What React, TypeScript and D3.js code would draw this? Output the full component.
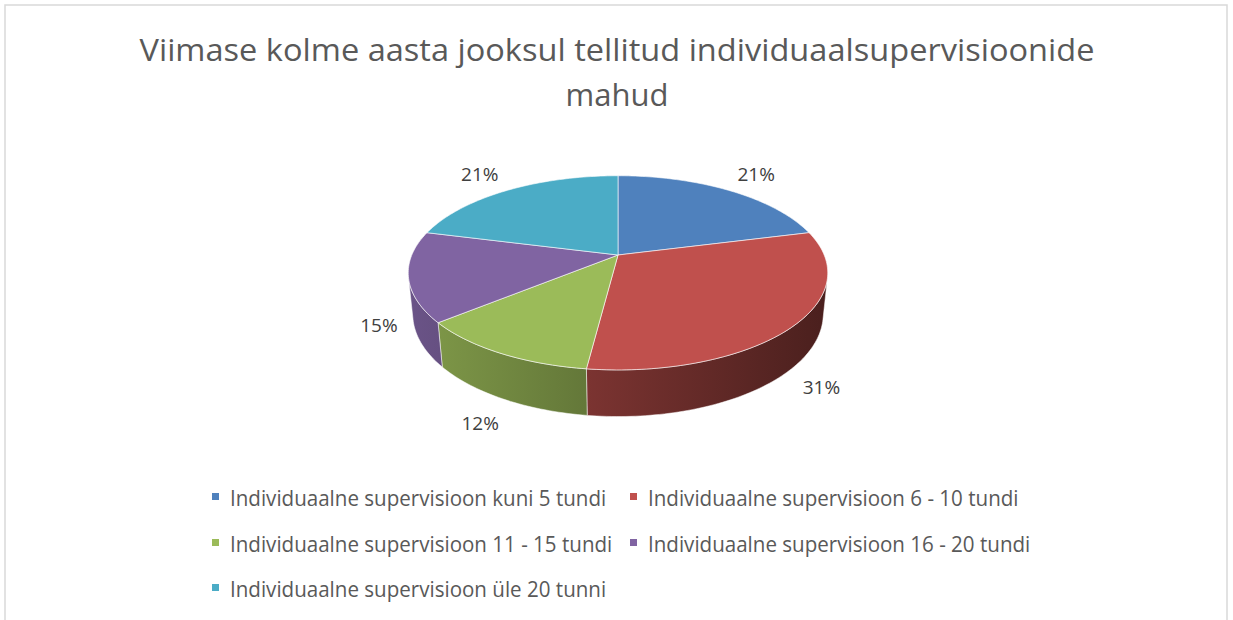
import React from "react";
import * as d3 from "d3";

const titleLines = ["Viimase kolme aasta jooksul tellitud individuaalsupervisioonide", "mahud"];
const categories = [
  "Individuaalne supervisioon kuni 5 tundi",
  "Individuaalne supervisioon 6 - 10 tundi",
  "Individuaalne supervisioon 11 - 15 tundi",
  "Individuaalne supervisioon 16 - 20 tundi",
  "Individuaalne supervisioon üle 20 tunni",
];
const values = [21, 31, 12, 15, 21];
const colors = ["#4f81bd", "#c0504d", "#9bbb59", "#8064a2", "#4bacc6"];

const W = 1233;
const H = 620;

// 3D projection parameters
const CX = 618;
const CY = 255;
const SIN_PHI = 0.455;
const COS_PHI = Math.sqrt(1 - SIN_PHI * SIN_PHI);
const DIST = 4.85;
const FOCAL = 1000;
const DEPTH = 0.226;

function project(a: number, r: number, z: number): [number, number] {
  const px = r * Math.sin(a);
  const py = -r * Math.cos(a);
  const depth = DIST - py * COS_PHI - z * SIN_PHI;
  const up = -py * SIN_PHI + z * COS_PHI;
  return [CX + (px * FOCAL) / depth, CY - (up * FOCAL) / depth];
}

function arcPoints(a0: number, a1: number, z: number): [number, number][] {
  const n = Math.max(2, Math.ceil(Math.abs(a1 - a0) / 0.02));
  const pts: [number, number][] = [];
  for (let i = 0; i <= n; i++) {
    pts.push(project(a0 + ((a1 - a0) * i) / n, 1, z));
  }
  return pts;
}

const line = d3.line<[number, number]>();

export default function App() {
  const total = d3.sum(values);
  const pie = d3.pie<number>().sort(null).startAngle(0).endAngle(2 * Math.PI);
  const arcs = pie(values);
  const fmt = d3.format(".0%");

  // visible range of outer wall
  const vis0 = Math.acos(-1 / (DIST * COS_PHI));
  const vis1 = 2 * Math.PI - vis0;
  const leftX = project(vis1, 1, 0)[0] - 5;
  const rightX = project(vis0, 1, 0)[0] + 5;

  const walls = arcs
    .map((d, i) => {
      const s = Math.max(d.startAngle, vis0);
      const e = Math.min(d.endAngle, vis1);
      if (e <= s) return null;
      const top = arcPoints(s, e, 0);
      const bot = arcPoints(e, s, -DEPTH);
      return { i, path: line([...top, ...bot])! + "Z" };
    })
    .filter(Boolean) as { i: number; path: string }[];

  const tops = arcs.map((d, i) => {
    const pts = [project(0, 0, 0), ...arcPoints(d.startAngle, d.endAngle, 0)];
    return { i, path: line(pts)! + "Z" };
  });

  const labels = arcs.map((d, i) => {
    const mid = (d.startAngle + d.endAngle) / 2;
    const back = Math.cos(mid) > 0;
    const [x, y] = back ? project(mid, 1.3, 0) : project(mid, 1.16, -DEPTH * 1.08);
    return { i, x, y, text: fmt(d.data / total) };
  });

  const legendRowY = [506, 552, 597];
  const legendColX = [212, 630];
  const textColor = "#595959";
  const font = "'Open Sans', 'Noto Sans', sans-serif";

  return (
    <svg
      width={W}
      height={H}
      style={{ position: "absolute", left: 0, top: 0, background: "#fff" }}
      fontFamily={font}
    >
      <defs>
        {colors.map((c, i) => (
          <linearGradient
            key={i}
            id={`wall${i}`}
            gradientUnits="userSpaceOnUse"
            x1={leftX}
            x2={rightX}
            y1={0}
            y2={0}
          >
            <stop offset="0%" stopColor={d3.color(c)!.darker(0.5).formatHex()} />
            <stop offset="100%" stopColor={d3.color(c)!.darker(2.7).formatHex()} />
          </linearGradient>
        ))}
      </defs>
      <rect x={5} y={5} width={1222} height={700} fill="#fff" stroke="#d9d9d9" strokeWidth={1.5} />

      <text x={617} y={61} textAnchor="middle" fontSize={31} fill={textColor} textLength={955} lengthAdjust="spacingAndGlyphs">
        {titleLines[0]}
      </text>
      <text x={617} y={106} textAnchor="middle" fontSize={31} fill={textColor}>
        {titleLines[1]}
      </text>

      <g>
        {walls.map((w) => (
          <path key={w.i} d={w.path} fill={`url(#wall${w.i})`} stroke="#ffffff" strokeOpacity={0.5} strokeWidth={1} />
        ))}
        {tops.map((t) => (
          <path key={t.i} d={t.path} fill={colors[t.i]} stroke="#ffffff" strokeOpacity={0.6} strokeWidth={1} />
        ))}
      </g>

      {labels.map((l) => (
        <text key={l.i} x={l.x} y={l.y} textAnchor="middle" dominantBaseline="central" fontSize={19} fill="#404040">
          {l.text}
        </text>
      ))}

      {categories.map((c, i) => {
        const row = Math.floor(i / 2);
        const col = i % 2;
        const x = legendColX[col];
        const y = legendRowY[row];
        return (
          <g key={i} transform={`translate(${x},${y})`}>
            <rect x={0} y={-13} width={7} height={7} fill={colors[i]} />
            <g transform="translate(18,0) scale(0.935,1)">
              <text x={0} y={0} fontSize={22} fill={textColor}>
                {c}
              </text>
            </g>
          </g>
        );
      })}
    </svg>
  );
}
